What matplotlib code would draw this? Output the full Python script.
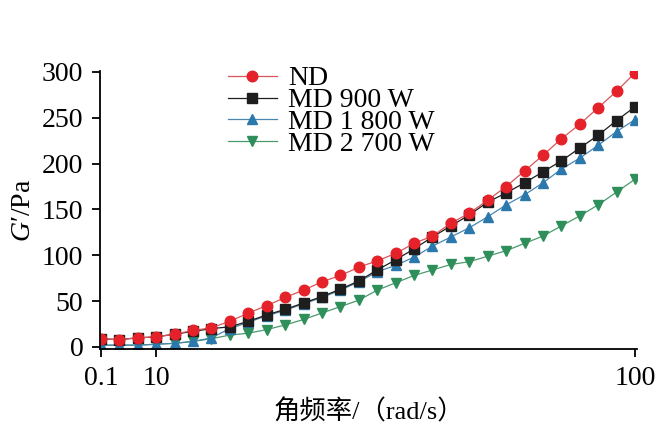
import matplotlib
matplotlib.use("Agg")
import matplotlib.pyplot as plt

# angular frequency points are evenly spaced on the chart; only three are labelled
freq_idx = list(range(30))
tick_idx = [0, 3, 29]
tick_labels = ["0.1", "10", "100"]

nd = [9, 8, 10, 11, 14, 18, 21, 28, 37, 45, 54, 62, 71, 78, 87,
      94, 102, 113, 121, 135, 146, 160, 175, 192, 209, 227, 243, 261, 279, 299]
md900 = [9, 8, 10, 11, 14, 17, 20, 22, 28, 35, 41, 48, 55, 63, 72,
         84, 95, 107, 120, 132, 144, 158, 168, 179, 191, 203, 217, 231, 247, 262]
md1800 = [2, 2, 2, 3, 4, 6, 10, 20, 27, 34, 40, 47, 54, 62, 71,
          82, 89, 98, 110, 120, 130, 142, 155, 166, 179, 194, 206, 220, 235, 248]
md2700 = [2, 2, 2, 3, 4, 6, 9, 13, 15, 19, 24, 30, 37, 44, 51,
          62, 70, 78, 84, 90, 93, 99, 105, 113, 121, 132, 143, 155, 169, 183]

series = [
    ("ND", nd, "o", "#e5222a", "#d9555a", 7.6),
    ("MD 900 W", md900, "s", "#1e1e1e", "#1e1e1e", 6.8),
    ("MD 1 800 W", md1800, "^", "#2b78ad", "#4a86b0", 6.8),
    ("MD 2 700 W", md2700, "v", "#2f8f5b", "#4a9a6c", 6.8),
]

plt.rcParams["font.family"] = ["Liberation Serif", "Noto Sans CJK SC"]
plt.rcParams["mathtext.fontset"] = "custom"
plt.rcParams["mathtext.rm"] = "Liberation Serif"
plt.rcParams["mathtext.it"] = "Liberation Serif:italic"

fig = plt.figure(figsize=(6.6, 4.36), dpi=100)
ax = fig.add_axes([100 / 660, 1 - 349 / 436, 536.7 / 660, 278 / 436])

# draw in reverse so ND sits on top, legend order kept below
lines = {}
for name, vals, mk, mcol, lcol, ms in reversed(series):
    lines[name], = ax.plot(freq_idx, vals, color=lcol, lw=0.9, marker=mk, ms=ms,
                           markerfacecolor=mcol, markeredgecolor=mcol, label=name)

ax.set_xlim(-0.05, 29.09)
ax.set_ylim(-2.2, 301)
ax.set_xticks(tick_idx)
ax.set_xticklabels(tick_labels)
ax.set_yticks([0, 50, 100, 150, 200, 250, 300])

for s in ["top", "right"]:
    ax.spines[s].set_visible(False)
for s in ["left", "bottom"]:
    ax.spines[s].set_linewidth(1.3)
ax.tick_params(direction="out", length=6, width=1.3, labelsize=20, pad=6)

ax.set_ylabel("$G$′/Pa", fontsize=20, labelpad=4)
ax.set_xlabel("角频率/（rad/s）", fontsize=19, labelpad=6)

names = [s[0] for s in series]
ax.legend([lines[n] for n in names], names, loc="upper left",
          bbox_to_anchor=(228 / 660, 1 - 66 / 436),
          bbox_transform=fig.transFigure, frameon=False, fontsize=20,
          handlelength=1.75, handletextpad=0.4, labelspacing=-0.13,
          borderpad=0, borderaxespad=0)

fig.savefig("out.png", dpi=100)
